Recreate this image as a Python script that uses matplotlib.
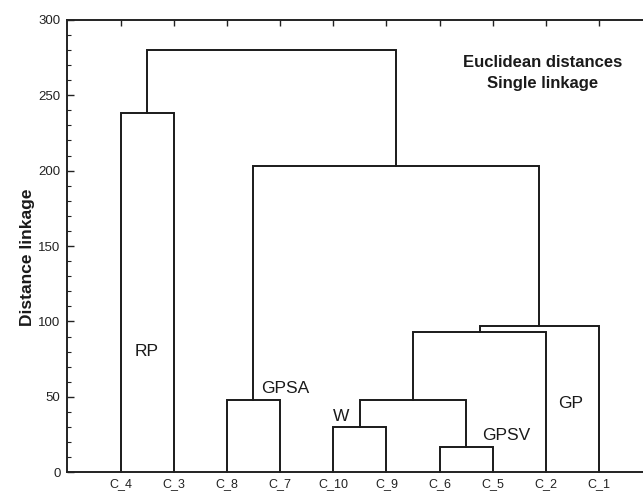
import matplotlib
matplotlib.use("Agg")
import matplotlib.pyplot as plt
from matplotlib.ticker import MultipleLocator

plt.rcParams['font.family'] = ['Liberation Sans', 'DejaVu Sans']

# Leaves in dendrogram order
leaves = ["C_4", "C_3", "C_8", "C_7", "C_10", "C_9", "C_6", "C_5", "C_2", "C_1"]
# Merges (ids 0-9 are leaves, new cluster ids start at 10)
merge_a = [0, 2, 4, 6, 12, 14, 15, 11, 10]
merge_b = [1, 3, 5, 7, 13, 8, 9, 16, 17]
merge_height = [238, 48, 30, 17, 48, 93, 97, 203, 280]

# Cluster labels
group_names = ["RP", "GPSA", "W", "GPSV", "GP"]
group_x = [1.5, 3.65, 5.14, 7.80, 9.23]
group_y = [80, 55.7, 36.8, 24.4, 45.3]
group_ha = ["center", "left", "center", "left", "left"]

title_lines = ["Euclidean distances", "Single linkage"]
ylabel = "Distance linkage"

fig = plt.figure(figsize=(6.43, 4.94), dpi=100)
ax = fig.add_axes([0.1047, 0.0439, 0.910, 0.916])

n = len(leaves)
pos = {i: i + 1 for i in range(n)}
hgt = {i: 0.0 for i in range(n)}
col = '#1a1a1a'
for k, (a, b, h) in enumerate(zip(merge_a, merge_b, merge_height)):
    xa, xb = pos[a], pos[b]
    ax.plot([xa, xa, xb, xb], [hgt[a], h, h, hgt[b]], color=col, lw=1.4,
            solid_joinstyle='miter', clip_on=False)
    cid = n + k
    pos[cid] = (xa + xb) / 2
    hgt[cid] = h

for name, x, y, ha in zip(group_names, group_x, group_y, group_ha):
    ax.text(x, y, name, ha=ha, va='center', fontsize=12.5, color='#1a1a1a')

for line, y in zip(title_lines, [268.8, 254.5]):
    ax.text(8.94, y, line, ha='center', va='baseline',
            fontsize=12, fontweight='bold', color='#1a1a1a')

ax.set_xlim(0, 11)
ax.set_ylim(0, 300)
ax.set_xticks(range(1, n + 1))
ax.set_xticklabels(leaves, fontsize=9, color='#222222')
ax.yaxis.set_major_locator(MultipleLocator(50))
ax.yaxis.set_minor_locator(MultipleLocator(10))
ax.tick_params(axis='y', which='major', direction='in', length=5, width=1,
               labelsize=9.5, pad=5, colors='#222222')
ax.tick_params(axis='y', which='minor', direction='in', length=3, width=0.8,
               colors='#222222')
ax.tick_params(axis='x', which='major', direction='in', length=4, width=1,
               top=True, bottom=False, pad=4, labelsize=9, colors='#222222')
ax.tick_params(axis='y', right=False, which='both')
for s in ax.spines.values():
    s.set_linewidth(1.4)
    s.set_color('#222222')

ax.set_ylabel(ylabel, fontsize=12.5, fontweight='bold', color='#1a1a1a')
ax.yaxis.set_label_coords(-0.056, 0.4746)

fig.savefig("out.png", dpi=100)
